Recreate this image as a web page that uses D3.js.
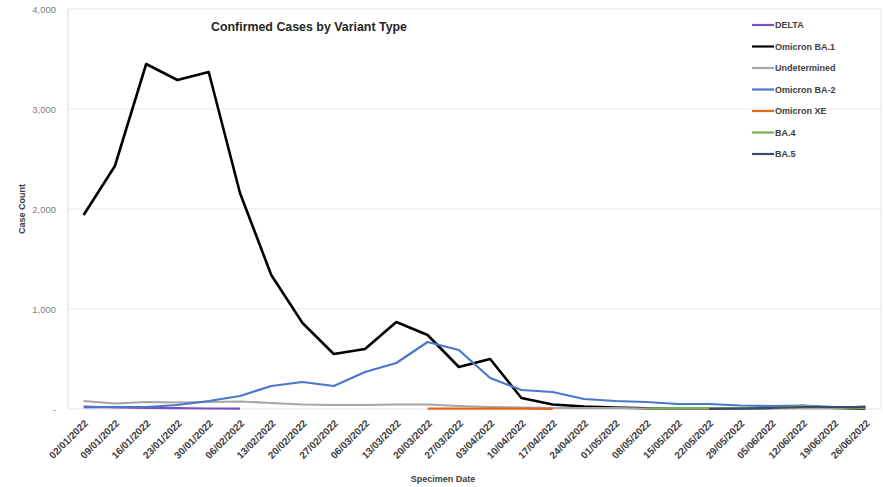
<!DOCTYPE html>
<html><head><meta charset="utf-8">
<script src="https://cdn.jsdelivr.net/npm/d3@7"></script>
<style>
body{margin:0;background:#fff;}
svg{display:block;font-family:"Liberation Sans Narrow","Liberation Sans",Arial,sans-serif;}
</style></head>
<body><svg id="chart" width="883" height="487"></svg>
<script>
const dates = ["02/01/2022","09/01/2022","16/01/2022","23/01/2022","30/01/2022","06/02/2022","13/02/2022","20/02/2022","27/02/2022","06/03/2022","13/03/2022","20/03/2022","27/03/2022","03/04/2022","10/04/2022","17/04/2022","24/04/2022","01/05/2022","08/05/2022","15/05/2022","22/05/2022","29/05/2022","05/06/2022","12/06/2022","19/06/2022","26/06/2022"];
const seriesNames = ["DELTA","Omicron BA.1","Undetermined","Omicron BA-2","Omicron XE","BA.4","BA.5"];
const delta = [25,15,10,8,5,3,null,null,null,null,null,null,null,null,null,null,null,null,null,null,null,null,null,null,null,null];
const ba1 = [1940,2430,3450,3290,3370,2160,1340,860,550,600,870,740,420,500,110,45,25,15,8,5,5,5,10,30,10,5];
const undetermined = [80,55,70,65,70,75,60,45,40,40,45,45,30,20,15,10,8,8,5,5,5,5,5,5,5,30];
const ba2 = [15,20,20,40,80,130,230,270,230,370,460,670,590,310,190,170,100,80,70,50,50,35,30,35,20,20];
const xe = [null,null,null,null,null,null,null,null,null,null,null,3,4,4,3,2,null,null,null,null,null,null,null,null,null,null];
const ba4 = [null,null,null,null,null,null,null,null,null,null,null,null,null,null,null,null,null,null,5,10,8,8,10,30,15,10];
const ba5 = [null,null,null,null,null,null,null,null,null,null,null,null,null,null,null,null,null,null,null,null,2,5,10,20,20,20];
const yTicks = [0,1000,2000,3000,4000];
const colors = ["#7b4fc0","#000000","#a6a6a6","#4a77cc","#e06a1c","#77b255","#3c4a6e"];
const widths = [2.2,2.6,2.2,2.2,2.2,2.2,2.2];
const allSeries = [delta,ba1,undetermined,ba2,xe,ba4,ba5];

const svg = d3.select("#chart");
const L=68, R=881, T=9, B=409;
const x = d3.scaleBand().domain(dates).range([L,R]).padding(0);
const y = d3.scaleLinear().domain([0,4000]).range([B,T]);
const xc = d => x(d)+x.bandwidth()/2;

// gridlines
svg.append("g").selectAll("line").data(yTicks.filter(v=>v>0)).join("line")
  .attr("x1",L).attr("x2",R).attr("y1",d=>y(d)).attr("y2",d=>y(d))
  .attr("stroke",d=>d===4000?"#dfe9d8":"#e8efe3").attr("stroke-width",1);
// frame
svg.append("line").attr("x1",R).attr("x2",R).attr("y1",T).attr("y2",B).attr("stroke","#e3eadd");
svg.append("line").attr("x1",L).attr("x2",L).attr("y1",T).attr("y2",B).attr("stroke","#d9d9d9");
svg.append("line").attr("x1",L).attr("x2",R).attr("y1",B).attr("y2",B).attr("stroke","#e6e6e6");

// y axis labels
const yAxis = d3.axisLeft(y).tickValues(yTicks).tickSize(0).tickPadding(0)
  .tickFormat(d=>d===0?"-":d3.format(",")(d));
const gy = svg.append("g").attr("transform",`translate(${L-12},0)`).call(yAxis);
gy.select(".domain").remove();
gy.selectAll("text").attr("fill","#7f7f7f").attr("font-size","9.5px").attr("font-family","Liberation Sans Narrow, Liberation Sans, sans-serif");

// x axis labels
const xAxis = d3.axisBottom(x).tickSize(0).tickPadding(0);
const gx = svg.append("g").attr("transform",`translate(0,${B})`).call(xAxis);
gx.select(".domain").remove();
gx.selectAll("text")
  .attr("text-anchor","end").attr("dy","0")
  .attr("transform","translate(5,15) rotate(-45)")
  .attr("fill","#404040").attr("font-size","10px").attr("font-weight","bold");

// lines
const line = d3.line().defined(d=>d.v!=null).x(d=>xc(d.d)).y(d=>y(d.v));
allSeries.forEach((s,i)=>{
  svg.append("path").datum(dates.map((d,j)=>({d:d,v:s[j]})))
    .attr("fill","none").attr("stroke",colors[i]).attr("stroke-width",widths[i])
    .attr("stroke-linejoin","round").attr("d",line);
});

// title
svg.append("text").attr("x",309).attr("y",31).attr("text-anchor","middle")
  .attr("font-size","12.4px").attr("font-weight","bold").attr("fill","#262626")
  .text("Confirmed Cases by Variant Type");

// axis titles
svg.append("text").attr("transform","translate(25,209) rotate(-90)").attr("text-anchor","middle")
  .attr("font-size","9px").attr("font-weight","bold").attr("fill","#404040").text("Case Count");
svg.append("text").attr("x",443).attr("y",482).attr("text-anchor","middle")
  .attr("font-size","9px").attr("font-weight","bold").attr("fill","#404040").text("Specimen Date");

// legend
const lg = svg.append("g");
seriesNames.forEach((n,i)=>{
  const yy = 25 + i*21.5;
  lg.append("line").attr("x1",752).attr("x2",774).attr("y1",yy).attr("y2",yy)
    .attr("stroke",colors[i]).attr("stroke-width",2.2);
  lg.append("text").attr("x",775).attr("y",yy+3.2).attr("font-size","9px").attr("font-weight","bold")
    .attr("fill","#404040").text(n);
});
</script></body></html>
